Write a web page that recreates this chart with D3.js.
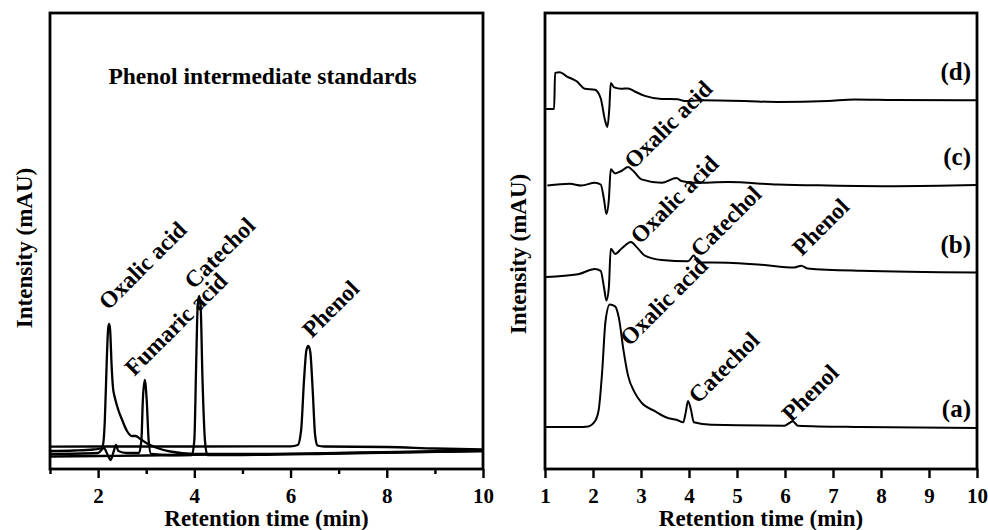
<!DOCTYPE html>
<html><head><meta charset="utf-8">
<script src="https://cdn.jsdelivr.net/npm/d3@7"></script>
<style>
html,body{margin:0;padding:0;background:#fff;}
svg{display:block;}
text{font-family:"Liberation Serif","Times New Roman",serif;font-weight:bold;fill:#000;}
</style></head>
<body>
<svg id="chart" width="988" height="530"></svg>
<script>
// ---------- DATA ----------
// x: retention time (min), y: intensity (arbitrary mAU units)
const leftMajorTicks = [2, 4, 6, 8, 10];
const leftMinorTicks = [1, 3, 5, 7, 9];
const rightTicks = [1, 2, 3, 4, 5, 6, 7, 8, 9, 10];

// Left panel: standards
const phenolStd = [[1.0,22.3],[2,22.5],[4,22.5],[6.0,22.7],[6.15,24],[6.22,39],[6.28,89],[6.33,119],[6.37,123],[6.41,117],[6.46,79],[6.51,34],[6.56,23.5],[6.7,22.5],[8,22],[9,20.5],[10,19.5]];
const oxalicStd = [[1.0,18],[1.5,18.5],[1.9,19.5],[2.05,20.5],[2.1,24],[2.14,49],[2.18,109],[2.21,141],[2.23,145],[2.25,139],[2.28,104],[2.31,81],[2.35,71],[2.42,59],[2.5,49],[2.6,38],[2.7,33],[2.78,33],[2.85,31],[3.0,26],[3.2,21.5],[3.5,17.5],[4.0,15],[5,15],[7,16],[10,18.5]];
const fumaricStd = [[1.0,15],[2.0,16],[2.12,21],[2.2,14],[2.26,9],[2.32,17],[2.37,24],[2.42,18],[2.6,16],[2.85,16],[2.9,29],[2.93,69],[2.97,89],[3.01,69],[3.05,29],[3.1,15],[3.5,14],[5,14.5],[10,18]];
const catecholStd = [[1.0,12.5],[2,13],[3,13.5],[3.95,14],[4.0,29],[4.04,109],[4.07,164],[4.1,173],[4.13,164],[4.17,89],[4.22,29],[4.27,14],[5,14],[7,15.5],[10,18]];

// Right panel: samples (a)-(d)
const traceA = [[1.02,41.9],[1.69,41.9],[1.9,42.6],[2.04,47.7],[2.12,59.5],[2.19,96.7],[2.26,147.5],[2.35,164.4],[2.46,162.7],[2.54,150.9],[2.63,120.4],[2.73,93.4],[2.87,76.4],[3.01,66.3],[3.29,57.8],[3.56,51],[3.74,49.3],[3.88,46.7],[3.93,56.1],[3.98,68],[4.04,59.5],[4.1,46.7],[4.47,44.3],[5.99,43.3],[6.09,46],[6.16,47.7],[6.27,43.3],[7.58,41.9],[10,40.9]];
const traceB = [[1.02,192.1],[1.69,194.8],[2.04,199.9],[2.16,198.2],[2.23,181.3],[2.28,168.5],[2.33,181.3],[2.37,220.2],[2.46,215.1],[2.59,220.2],[2.79,227],[2.91,221.9],[3.08,213.4],[3.43,209],[3.98,207.7],[4.1,213.4],[4.19,206.6],[4.81,206.3],[5.5,204.3],[6.2,201.6],[6.34,203.3],[6.47,200.6],[7.58,198.2],[10,196.5]];
const traceC = [[1.05,283.5],[1.52,285.2],[1.76,283.5],[2.04,286.2],[2.16,284.5],[2.23,269.3],[2.28,255],[2.33,269.3],[2.37,299.7],[2.46,295.6],[2.59,298],[2.73,302],[2.84,298],[3.01,289.6],[3.43,286.2],[3.74,291],[3.84,288],[4.12,286.2],[4.81,286.9],[5.85,284.5],[6.89,283.5],[8.28,282.8],[10,283.9]];
const traceD = [[1.02,359.9],[1.19,359.9],[1.21,396.1],[1.31,396.8],[1.45,392.7],[1.66,387.7],[1.83,380.2],[2.04,379.2],[2.16,370.8],[2.25,348.8],[2.30,342],[2.34,360.6],[2.37,386],[2.44,381.6],[2.59,380.2],[2.73,380.6],[2.87,377.5],[3.08,373.1],[3.43,370.1],[3.76,369.7],[3.91,368],[4.26,368.7],[5.16,368],[5.85,367],[6.89,368],[7.45,369.5],[8.28,369],[10,368.7]];

// Peak annotations (anchored at retention time / intensity)
const leftLabelText = ["Oxalic acid", "Fumaric acid", "Catechol", "Phenol"];
const leftLabelT = [2.21, 2.75, 3.99, 6.44];
const leftLabelV = [158, 92, 179, 130];
const rightLabelText = ["Oxalic acid", "Oxalic acid", "Catechol", "Phenol", "Oxalic acid", "Catechol", "Phenol"];
const rightLabelT = [2.85, 2.98, 4.23, 6.35, 2.76, 4.19, 6.13];
const rightLabelV = [299, 224, 210.7, 212, 122, 64.6, 46];
const sampleTags = ["(a)", "(b)", "(c)", "(d)"];
const sampleTagV = [52, 216, 304, 389];

const panelTitle = "Phenol intermediate standards";
const xTitle = "Retention time (min)";
const yTitle = "Intensity (mAU)";

// ---------- DRAW ----------
const svg = d3.select("#chart");
const plotTop = 13, plotBottom = 469;
const yScale = d3.scaleLinear().domain([0, 456]).range([plotBottom, plotTop]);
const xL = d3.scaleLinear().domain([1, 10]).range([50, 483]);
const xR = d3.scaleLinear().domain([1, 10]).range([545, 977]);

function drawTraces(x, series, w) {
  const line = d3.line().x(d => x(d[0])).y(d => yScale(d[1])).curve(d3.curveMonotoneX);
  svg.append("g").selectAll("path").data(series).join("path")
    .attr("d", line).attr("fill", "none").attr("stroke", "#000")
    .attr("stroke-width", w).attr("stroke-linejoin", "round");
}

function drawFrame(x, major, minor) {
  const g = svg.append("g").attr("transform", `translate(0,${plotBottom})`);
  const ax = d3.axisBottom(x).tickValues(major).tickSize(9).tickPadding(10).tickFormat(d3.format("d"));
  g.call(ax);
  if (minor) {
    const g2 = svg.append("g").attr("transform", `translate(0,${plotBottom})`);
    g2.call(d3.axisBottom(x).tickValues(minor).tickSize(5).tickFormat(""));
    g2.select(".domain").remove();
    g2.selectAll("line").attr("stroke-width", 2.4);
  }
  g.select(".domain").remove();
  g.selectAll("line").attr("stroke-width", 2.4);
  g.selectAll("text").attr("font-size", 21).attr("font-family", '"Liberation Serif","Times New Roman",serif').attr("font-weight", "bold");
  const [x0, x1] = x.range();
  svg.append("rect").attr("x", x0).attr("y", plotTop).attr("width", x1 - x0).attr("height", plotBottom - plotTop)
    .attr("fill", "none").attr("stroke", "#000").attr("stroke-width", 2.8);
  svg.append("text").attr("x", (x0 + x1) / 2).attr("y", 526).attr("text-anchor", "middle")
    .attr("font-size", 23).text(xTitle);
}

drawTraces(xL, [phenolStd, oxalicStd, fumaricStd, catecholStd], 2.3);
drawTraces(xR, [traceA, traceB, traceC, traceD], 2.0);
drawFrame(xL, leftMajorTicks, leftMinorTicks);
drawFrame(xR, rightTicks, null);

// y titles
[[32, 248], [526, 254]].forEach(([tx, ty]) => {
  svg.append("text").attr("transform", `translate(${tx},${ty}) rotate(-90)`)
    .attr("text-anchor", "middle").attr("font-size", 23).text(yTitle);
});

// panel title
svg.append("text").attr("x", 262.5).attr("y", 84).attr("text-anchor", "middle")
  .attr("font-size", 23.5).text(panelTitle);

// rotated peak labels
function rotLabels(x, texts, ts, vs) {
  svg.append("g").selectAll("text").data(texts).join("text")
    .attr("transform", (d, i) => `translate(${x(ts[i])},${yScale(vs[i])}) rotate(-45)`)
    .attr("font-size", 23.5).text(d => d);
}
rotLabels(xL, leftLabelText, leftLabelT, leftLabelV);
rotLabels(xR, rightLabelText, rightLabelT, rightLabelV);

// sample tags
svg.append("g").selectAll("text").data(sampleTags).join("text")
  .attr("x", xR.range()[1] - 6).attr("y", (d, i) => yScale(sampleTagV[i]))
  .attr("text-anchor", "end").attr("font-size", 25).text(d => d);
</script>
</body></html>
